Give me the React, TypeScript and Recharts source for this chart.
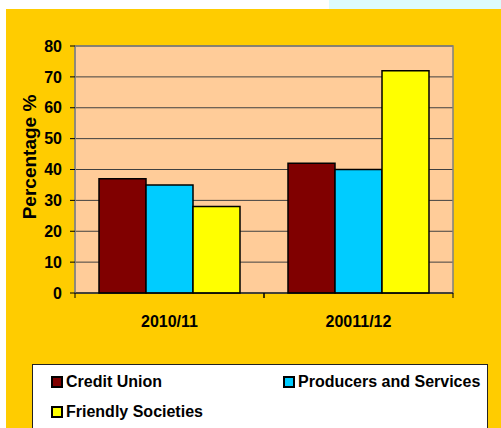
import { Bar, BarChart, CartesianGrid, ReferenceArea, XAxis, YAxis } from 'recharts';

const CATEGORIES = ['2010/11', '20011/12'];
const CREDIT_UNION = [37, 42];
const PRODUCERS = [35, 40];
const FRIENDLY = [28, 72];
const Y_TICKS = [0, 10, 20, 30, 40, 50, 60, 70, 80];

const SERIES = [
  { key: 'credit', name: 'Credit Union', color: '#800000', values: CREDIT_UNION },
  { key: 'producers', name: 'Producers and Services', color: '#00CCFF', values: PRODUCERS },
  { key: 'friendly', name: 'Friendly Societies', color: '#FFFF00', values: FRIENDLY },
];

const FONT = '"Liberation Sans", Arial, sans-serif';

const rows = CATEGORIES.map((c, i) => {
  const r: Record<string, string | number> = { cat: c };
  SERIES.forEach((s) => (r[s.key] = s.values[i]));
  return r;
});

// category label plus tick marks at the band edges (like Excel)
function CatTick(props: any) {
  const { x, y, payload } = props;
  const half = payload.offset ?? 0;
  return (
    <g>
      <line x1={x - half} x2={x - half} y1={y} y2={y + 5} stroke="#000" />
      <line x1={x + half} x2={x + half} y1={y} y2={y + 5} stroke="#000" />
      <text
        x={x}
        y={y + 23}
        dy="0.71em"
        textAnchor="middle"
        fontFamily={FONT}
        fontWeight="bold"
        fontSize={16}
        fill="#000"
      >
        {payload.value}
      </text>
    </g>
  );
}

export default function App() {
  return (
    <div style={{ position: 'fixed', left: 0, top: 0, width: 501, height: 428, background: '#fff', overflow: 'hidden' }}>
      <div style={{ position: 'absolute', left: 329, top: 0, width: 172, height: 9, background: '#DDFBFD' }} />
      <div style={{ position: 'absolute', left: 6, top: 9, width: 495, height: 419, background: '#FFCC00' }} />
      <div style={{ position: 'absolute', left: 0, top: 0 }}>
        <BarChart
          width={501}
          height={428}
          data={rows}
          margin={{ top: 46, right: 48, left: 0, bottom: 105 }}
          barCategoryGap="12.7%"
          barGap={0}
        >
          <CartesianGrid vertical={false} stroke="#404040" fill="#FFCC99" />
          <XAxis
            dataKey="cat"
            height={30}
            tickLine={false}
            tickSize={0}
            tickMargin={0}
            axisLine={{ stroke: '#000' }}
            tick={<CatTick />}
            interval={0}
          />
          <YAxis
            width={75}
            domain={[0, 80]}
            ticks={Y_TICKS}
            interval={0}
            tickSize={5}
            tickMargin={8}
            tickLine={{ stroke: '#000' }}
            axisLine={{ stroke: '#808080' }}
            tick={{ fontFamily: FONT, fontWeight: 'bold', fontSize: 16, fill: '#000' }}
            label={{
              content: () => (
                <text
                  x={29}
                  y={157}
                  transform="rotate(-90 29 157)"
                  textAnchor="middle"
                  dominantBaseline="central"
                  fontFamily={FONT}
                  fontWeight="bold"
                  fontSize={19}
                  fill="#000"
                >
                  Percentage %
                </text>
              ),
            }}
          />
          <ReferenceArea y1={0} y2={80} fill="none" stroke="#808080" strokeWidth={1.5} />
          {SERIES.map((s) => (
            <Bar
              key={s.key}
              dataKey={s.key}
              name={s.name}
              fill={s.color}
              stroke="#000"
              strokeWidth={1.5}
              isAnimationActive={false}
            />
          ))}
        </BarChart>
      </div>
      <div
        style={{
          position: 'absolute',
          left: 32,
          top: 364,
          width: 454,
          height: 80,
          background: '#fff',
          border: '1px solid #222',
          fontFamily: FONT,
          fontWeight: 'bold',
          fontSize: 16,
        }}
      >
        {SERIES.map((s, i) => (
          <div
            key={s.key}
            style={{
              position: 'absolute',
              left: i % 2 === 0 ? 18 : 250,
              top: i < 2 ? 8 : 38,
              display: 'flex',
              alignItems: 'center',
              whiteSpace: 'nowrap',
            }}
          >
            <span
              style={{
                display: 'inline-block',
                width: 8,
                height: 8,
                background: s.color,
                border: '2px solid #000',
                marginRight: 3,
              }}
            />
            {s.name}
          </div>
        ))}
      </div>
    </div>
  );
}
